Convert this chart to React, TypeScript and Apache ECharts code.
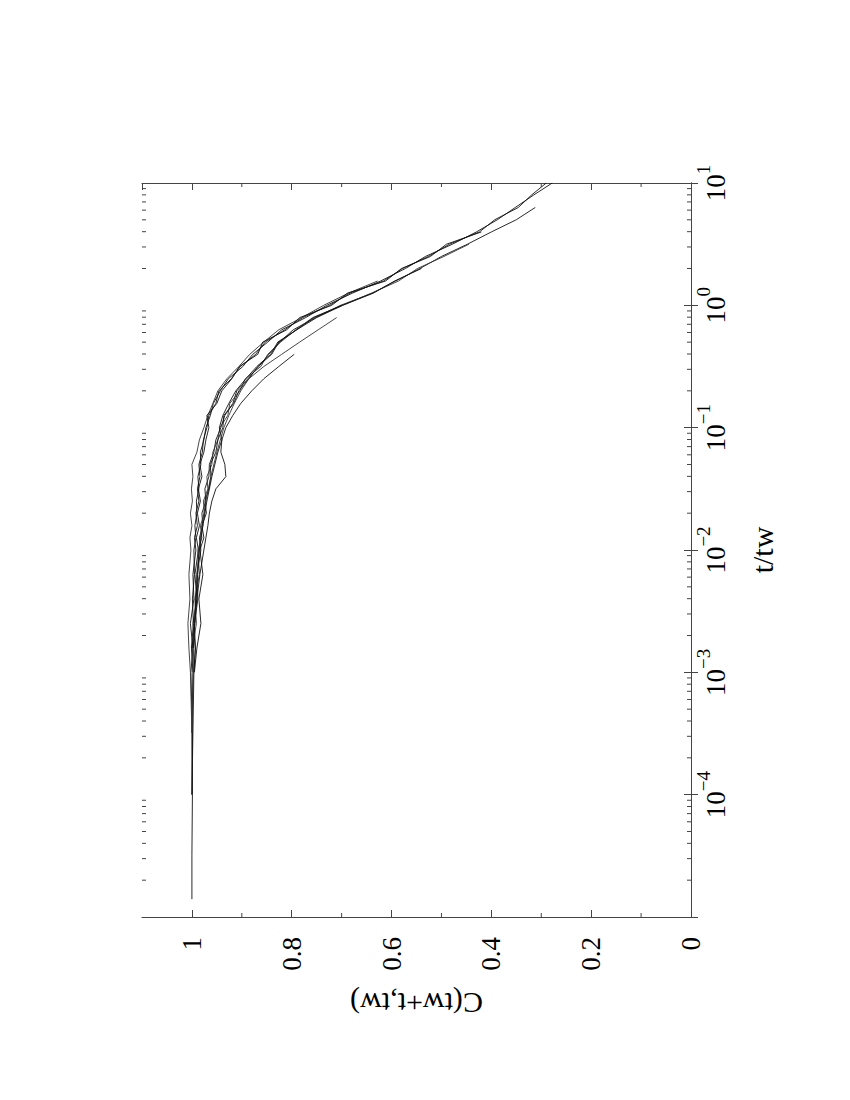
import React, { useEffect, useRef } from "react";
import * as echarts from "echarts";

const _ = null;

// t/tw sample points (log axis)
const tGrid = [1.4e-5, 3.2e-5, 1e-4, 3.2e-4, 0.001, 0.00158, 0.00251, 0.00398, 0.00631, 0.01,
  0.0126, 0.0158, 0.02, 0.0251, 0.0316, 0.0398, 0.0501, 0.0631, 0.0794, 0.1,
  0.126, 0.158, 0.2, 0.251, 0.316, 0.398, 0.501, 0.631, 0.794, 1,
  1.26, 1.58, 2, 2.51, 3.16, 3.98, 5.01, 6.31, 7.94, 10];

// C(tw+t,tw) for each run
const curveU1 = [1.0, 1.0, 0.999, 1.0, 0.998, 1.001, 0.997, 0.999, 0.995, 0.996, 0.992, 0.994, 0.99, 0.991, 0.986, 0.988, 0.982, 0.983, 0.976, 0.972, 0.963, 0.957, 0.943, 0.927, 0.898, 0.878, 0.848, 0.82, 0.772, 0.73, 0.678, 0.622, 0.572, 0.532, 0.478, 0.43, 0.388, 0.352, 0.316, 0.278];
const curveU2 = [_, _, 1.0, 0.999, 1.002, 0.998, 1.003, 0.996, 0.998, 0.992, 0.995, 0.989, 0.992, 0.986, 0.989, 0.984, 0.986, 0.979, 0.977, 0.97, 0.966, 0.952, 0.946, 0.921, 0.903, 0.872, 0.853, 0.814, 0.778, 0.724, 0.683, 0.616, 0.578, 0.526, 0.484, 0.424, 0.393, 0.346, 0.32, 0.29];
const curveN = [_, _, _, 1.0, 1.003, 1.006, 1.008, 1.004, 1.006, 1.002, 1.004, 1.0, 1.003, 0.999, 1.001, 0.998, 1.0, 0.99, 0.985, 0.976, 0.968, 0.958, 0.948, 0.93, 0.906, 0.884, 0.856, 0.826, 0.78, 0.736, 0.686, 0.628, _, _, _, _, _, _, _, _];
const curveU3 = [_, _, _, _, 0.996, 0.993, 0.998, 0.99, 0.994, 0.987, 0.991, 0.985, 0.989, 0.983, 0.987, 0.98, 0.984, 0.976, 0.972, 0.966, 0.97, 0.95, 0.94, 0.92, 0.905, 0.868, 0.858, 0.81, 0.784, 0.72, 0.688, 0.612, 0.58, 0.522, 0.49, 0.42, _, _, _, _];
const curveL1 = [_, _, 1.0, 0.998, 0.996, 0.993, 0.995, 0.988, 0.99, 0.982, 0.985, 0.978, 0.98, 0.972, 0.974, 0.966, 0.965, 0.956, 0.952, 0.942, 0.934, 0.918, 0.91, 0.888, 0.866, 0.846, 0.824, 0.797, 0.752, 0.702, 0.638, 0.592, 0.543, 0.5, 0.448, 0.4, 0.35, 0.312, _, _];
const curveL2 = [_, _, _, 1.0, 0.997, 0.999, 0.991, 0.994, 0.985, 0.988, 0.98, 0.983, 0.975, 0.977, 0.968, 0.97, 0.96, 0.958, 0.948, 0.944, 0.928, 0.924, 0.904, 0.893, 0.862, 0.848, 0.822, 0.792, 0.758, 0.698, 0.64, 0.586, 0.548, 0.495, 0.445, _, _, _, _, _];
const curveL3 = [_, _, _, _, 0.995, 0.99, 0.982, 0.986, 0.978, 0.984, 0.976, 0.98, 0.971, 0.974, 0.966, 0.962, 0.963, 0.952, 0.948, 0.938, 0.936, 0.916, 0.906, 0.886, 0.868, 0.84, 0.826, 0.79, 0.75, 0.698, 0.636, 0.594, 0.54, _, _, _, _, _, _, _];
const curveB = [_, _, _, _, _, 1.0, 0.994, 0.99, 0.984, 0.976, 0.972, 0.968, 0.965, 0.96, 0.952, 0.932, 0.934, 0.942, 0.94, 0.945, 0.938, 0.926, 0.912, 0.892, 0.87, 0.842, 0.828, 0.79, 0.756, 0.7, _, _, _, _, _, _, _, _, _, _];
const curveS1 = [_, _, _, _, 0.998, _, 0.995, _, 0.99, 0.986, _, 0.98, _, 0.972, _, 0.962, _, 0.95, _, 0.936, 0.926, 0.915, 0.902, 0.886, 0.856, 0.82, 0.784, 0.747, 0.71, _, _, _, _, _, _, _, _, _, _, _];
const curveS2 = [_, _, _, _, _, 0.997, _, 0.992, _, 0.985, _, 0.978, _, 0.97, _, 0.96, _, 0.948, _, 0.932, 0.918, 0.902, 0.88, 0.856, 0.826, 0.795, _, _, _, _, _, _, _, _, _, _, _, _, _, _];

const curves = [curveU1, curveU2, curveN, curveU3, curveL1, curveL2, curveL3, curveB, curveS1, curveS2];

// axis ticks
const cMinorTicks = [0.1, 0.3, 0.5, 0.7, 0.9];
const tDecades = [1e-5, 1e-4, 1e-3, 1e-2, 1e-1, 1];
const tMinorMultipliers = [2, 3, 4, 5, 6, 7, 8, 9];

const SERIF = "'Liberation Serif', 'DejaVu Serif', serif";
const AXIS_COLOR = "#444";

export default function App() {
  const ref = useRef<HTMLDivElement>(null);

  useEffect(() => {
    if (!ref.current) return;
    const chart = echarts.init(ref.current, null, { renderer: "svg" });

    const tMinor: number[] = [];
    tDecades.forEach((d) => tMinorMultipliers.forEach((m) => tMinor.push(m * d)));
    const minorData: any[] = [
      ...cMinorTicks.map((c) => [c, 1]),
      ...tMinor.map((t) => [1, t]),
    ];
    const nC = cMinorTicks.length;

    const lineSeries = curves.map((c, k) => ({
      type: "line",
      xAxisIndex: 0,
      yAxisIndex: 0,
      showSymbol: false,
      symbol: "none",
      silent: true,
      lineStyle: { color: k % 3 === 2 ? "#333" : "#111", width: 0.9 },
      data: tGrid
        .map((t, i) => (c[i] == null ? null : [c[i], t]))
        .filter((p) => p !== null),
    }));

    const valueAxisBase = {
      type: "value",
      min: 0,
      max: 1.1,
      interval: 0.2,
      inverse: true,
      splitLine: { show: false },
      axisLine: { show: true, lineStyle: { color: AXIS_COLOR, width: 1 } },
      axisTick: { show: true, inside: true, length: 7, lineStyle: { color: AXIS_COLOR } },
    };
    const logAxisBase = {
      type: "log",
      logBase: 10,
      min: 1e-5,
      max: 10,
      splitLine: { show: false },
      minorTick: { show: false },
      axisLine: { show: true, lineStyle: { color: AXIS_COLOR, width: 1 } },
      axisTick: { show: true, inside: true, length: 7, lineStyle: { color: AXIS_COLOR } },
    };

    const option: any = {
      animation: false,
      backgroundColor: "#fff",
      grid: {
        left: 142,
        right: 159,
        top: 183,
        bottom: 183,
        containLabel: false,
        outerBoundsMode: "none",
      },
      xAxis: [
        {
          ...valueAxisBase,
          position: "bottom",
          axisLabel: {
            show: true,
            rotate: 90,
            margin: 20,
            fontSize: 27,
            fontFamily: SERIF,
            color: "#000",
            showMaxLabel: false,
            formatter: (v: number) => {
              const r = Math.round(v * 10);
              if (r % 2 !== 0 || r > 10) return "";
              return String(Math.round(v * 10) / 10);
            },
          },
          name: "C(tw+t,tw)",
          nameLocation: "middle",
          nameRotate: 180,
          nameGap: 71,
          nameTextStyle: { fontSize: 30, fontFamily: SERIF, color: "#000" },
        },
        {
          ...valueAxisBase,
          position: "top",
          axisLabel: { show: false },
        },
      ],
      yAxis: [
        {
          ...logAxisBase,
          position: "right",
          axisLabel: {
            show: true,
            rotate: 90,
            margin: 3,
            color: "#000",
            fontFamily: SERIF,
            formatter: (v: number) => {
              const e = Math.round(Math.log10(v));
              if (e <= -5) return "";
              const s = e < 0 ? "\u2212" + String(-e) : String(e);
              return "{b|10}{s|" + s + "}";
            },
            rich: {
              b: { fontSize: 27, fontFamily: SERIF, color: "#000", lineHeight: 35, verticalAlign: "bottom" },
              s: { fontSize: 19, fontFamily: SERIF, color: "#000", verticalAlign: "top" },
            },
          },
          name: "t/tw",
          nameLocation: "middle",
          nameGap: 56,
          nameTextStyle: { fontSize: 30, fontFamily: SERIF, color: "#000" },
        },
        {
          ...logAxisBase,
          position: "left",
          axisLabel: { show: false },
        },
      ],
      series: [
        ...lineSeries,
        {
          type: "custom",
          xAxisIndex: 0,
          yAxisIndex: 0,
          silent: true,
          clip: false,
          data: minorData,
          renderItem: (params: any, api: any) => {
            const cs = params.coordSys;
            const left = cs.x;
            const right = cs.x + cs.width;
            const top = cs.y;
            const bottom = cs.y + cs.height;
            const L = 4;
            const style = { stroke: AXIS_COLOR, lineWidth: 1 };
            if (params.dataIndex < nC) {
              const x = api.coord([api.value(0), 1])[0];
              return {
                type: "group",
                children: [
                  { type: "line", shape: { x1: x, y1: top, x2: x, y2: top + L }, style },
                  { type: "line", shape: { x1: x, y1: bottom, x2: x, y2: bottom - L }, style },
                ],
              };
            }
            const y = api.coord([1, api.value(1)])[1];
            return {
              type: "group",
              children: [
                { type: "line", shape: { x1: left, y1: y, x2: left + L, y2: y }, style },
                { type: "line", shape: { x1: right, y1: y, x2: right - L, y2: y }, style },
              ],
            };
          },
        },
      ],
    };

    chart.setOption(option);
    return () => chart.dispose();
  }, []);

  return (
    <div
      ref={ref}
      style={{ position: "absolute", left: 0, top: 0, width: 850, height: 1100, background: "#fff" }}
    />
  );
}
